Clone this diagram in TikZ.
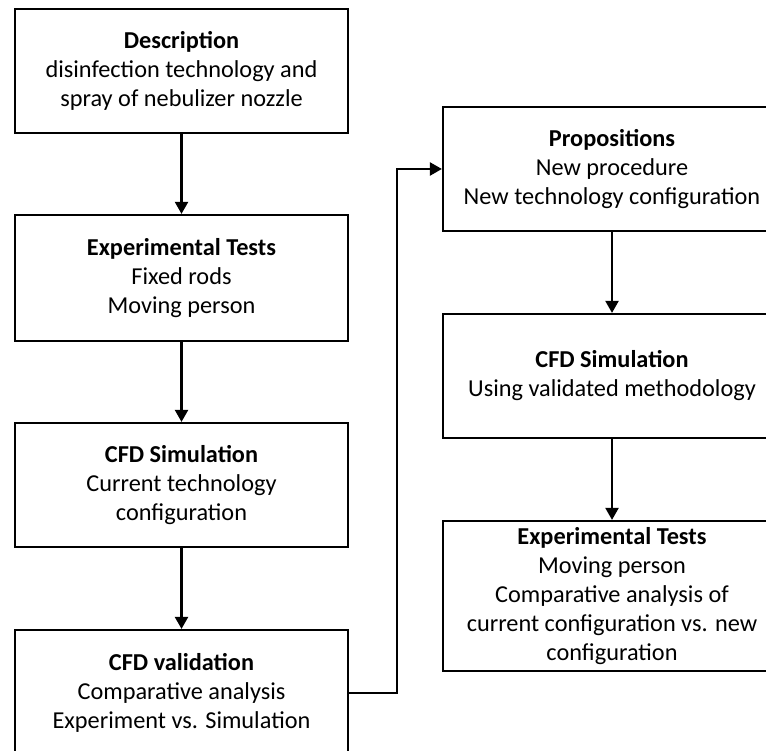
\documentclass[tikz,border=0pt]{standalone}
\usepackage{fontspec}
\setmainfont{Carlito}
\usetikzlibrary{arrows.meta}
\tikzset{>={Triangle[length=12pt,width=13pt]}}
\tikzset{stepbox/.style={draw, line width=2.2pt, align=center, minimum width=333pt, inner sep=0pt,
  font=\fontsize{24.3}{29}\selectfont}}

\begin{document}
\begin{tikzpicture}[x=1pt, y=-1pt, line width=2.2pt]
	\useasboundingbox (0,0) rectangle (766,751);
	% left column
	\node[stepbox, minimum height=124pt] (desc) at (181.5,71) {\textbf{Description}\\disinfection technology and\\spray of nebulizer nozzle};
	\node[stepbox, minimum height=126pt] (exp1) at (181.5,278) {\textbf{Experimental Tests}\\Fixed rods\\Moving person};
	\node[stepbox, minimum height=124pt] (sim1) at (181.5,485) {\textbf{CFD Simulation}\\Current technology\\configuration};
	\node[stepbox, minimum height=126pt] (val) at (181.5,693) {\textbf{CFD validation}\\Comparative analysis\\Experiment vs. Simulation};
	% right column
	\node[stepbox, minimum height=124pt, minimum width=338pt] (prop) at (612,169) {\textbf{Propositions}\\New procedure\\New technology configuration};
	\node[stepbox, minimum height=124pt, minimum width=338pt] (sim2) at (612,376) {\textbf{CFD Simulation}\\Using validated methodology};
	\node[stepbox, minimum height=150pt, minimum width=338pt] (exp2) at (612,596) {\textbf{Experimental Tests}\\Moving person\\Comparative analysis of\\current configuration vs. new\\configuration};
	\draw[->] (desc) -- (exp1);
	\draw[->] (exp1) -- (sim1);
	\draw[->] (sim1) -- (val);
	\draw[->] (val.east) -- ++(48,0) |- (prop.west);
	\draw[->] (prop) -- (sim2);
	\draw[->] (sim2) -- (exp2);
\end{tikzpicture}
\end{document}
